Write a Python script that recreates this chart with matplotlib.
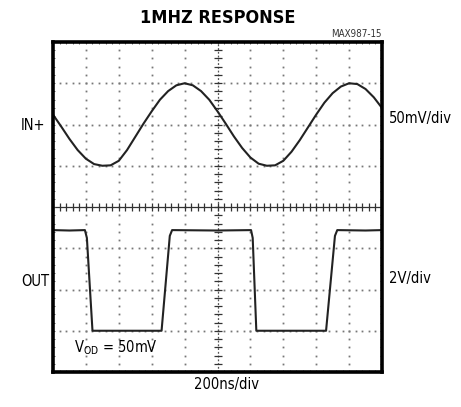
import matplotlib
matplotlib.use("Agg")
import matplotlib.pyplot as plt
from matplotlib.font_manager import fontManager

# screen in divisions: 10 across (-5..5), 8 up (-4..4)
names = {f.name for f in fontManager.ttflist}
narrow = 'Liberation Sans Narrow' if 'Liberation Sans Narrow' in names else 'DejaVu Sans'
cond = dict(family=narrow, fontstretch='condensed')

# IN+ trace (read every 0.25 div)
in_t = [-5.0, -4.75, -4.5, -4.25, -4.0, -3.75, -3.5, -3.25, -3.0, -2.75, -2.5,
        -2.25, -2.0, -1.75, -1.5, -1.25, -1.0, -0.75, -0.5, -0.25, 0.0,
        0.25, 0.5, 0.75, 1.0, 1.25, 1.5, 1.75, 2.0, 2.25, 2.5,
        2.75, 3.0, 3.25, 3.5, 3.75, 4.0, 4.25, 4.5, 4.75, 5.0]
in_v = [2.24, 1.95, 1.65, 1.38, 1.17, 1.04, 1.00, 1.01, 1.12, 1.38, 1.70,
        2.02, 2.32, 2.60, 2.81, 2.95, 3.00, 2.95, 2.81, 2.60, 2.32,
        2.02, 1.71, 1.43, 1.20, 1.05, 1.00, 1.01, 1.12, 1.34, 1.62,
        1.93, 2.24, 2.53, 2.76, 2.92, 3.00, 2.98, 2.86, 2.66, 2.40]

# OUT trace
out_t = [-5.0, -4.5, -4.03, -3.97, -3.80, -3.0, -1.70, -1.45, -1.38, 0.0,
         1.02, 1.07, 1.18, 2.5, 3.30, 3.57, 3.64, 4.5, 5.0]
out_v = [-0.56, -0.57, -0.56, -0.75, -3.0, -3.0, -3.0, -0.70, -0.56, -0.57,
         -0.56, -0.75, -3.0, -3.0, -3.0, -0.70, -0.56, -0.57, -0.56]

fig = plt.figure(figsize=(4.61, 4.07), dpi=100)
ax = fig.add_axes([53/461, 35/407, 329/461, 330/407])
ax.set_xlim(-5, 5)
ax.set_ylim(-4, 4)

# dotted graticule
minor_x = [i * 0.2 - 5 for i in range(51)]
minor_y = [i * 0.2 - 4 for i in range(41)]
dot = dict(ls='none', marker='s', ms=1.3, color='#777777', mew=0)
for gx in range(-4, 5):
    if gx != 0:
        ax.plot([gx] * len(minor_y), minor_y, **dot)
for gy in range(-3, 4):
    if gy != 0:
        ax.plot(minor_x, [gy] * len(minor_x), **dot)

# centre axes with ticks
ax.axhline(0, color='#333333', lw=0.9)
ax.axvline(0, color='#555555', lw=0.9, ls=(0, (1.5, 1.5)))
ax.plot(minor_x, [0] * len(minor_x), ls='none', marker='|', ms=6, color='#333333', mew=0.9)
ax.plot([0] * len(minor_y), minor_y, ls='none', marker='_', ms=6, color='#333333', mew=0.9)
# edge ticks
edge = dict(ls='none', ms=3, color='#666666', mew=0.7)
ax.plot(minor_x, [4] * len(minor_x), marker='|', **edge)
ax.plot(minor_x, [-4] * len(minor_x), marker='|', **edge)
ax.plot([-5] * len(minor_y), minor_y, marker='_', **edge)
ax.plot([5] * len(minor_y), minor_y, marker='_', **edge)

ax.plot(in_t, in_v, color='#222222', lw=1.5)
ax.plot(out_t, out_v, color='#222222', lw=1.5)

ax.set_xticks([])
ax.set_yticks([])
for s in ax.spines.values():
    s.set_linewidth(2.6)
    s.set_color('black')

fig.text(218/461, 1 - 18/407, '1MHZ RESPONSE', ha='center', va='center',
         fontsize=13, fontweight='heavy', **cond)
fig.text(382/461, 1 - 34/407, 'MAX987-15', ha='right', va='center',
         fontsize=7, color='#333333', **cond)
fig.text(21/461, 1 - 125/407, 'IN+', ha='left', va='center', fontsize=10.5, **cond)
fig.text(21/461, 1 - 282/407, 'OUT', ha='left', va='center', fontsize=10.5, **cond)
fig.text(389/461, 1 - 118/407, '50mV/div', ha='left', va='center', fontsize=10.5, **cond)
fig.text(389/461, 1 - 278/407, '2V/div', ha='left', va='center', fontsize=10.5, **cond)
fig.text(226/461, 1 - 385/407, '200ns/div', ha='center', va='center', fontsize=10.5, **cond)
ax.text(-4.35, -3.42, r'V$_{\mathregular{OD}}$ = 50mV', ha='left', va='center',
        fontsize=10.5, **cond)

fig.savefig('out.png', dpi=100)
